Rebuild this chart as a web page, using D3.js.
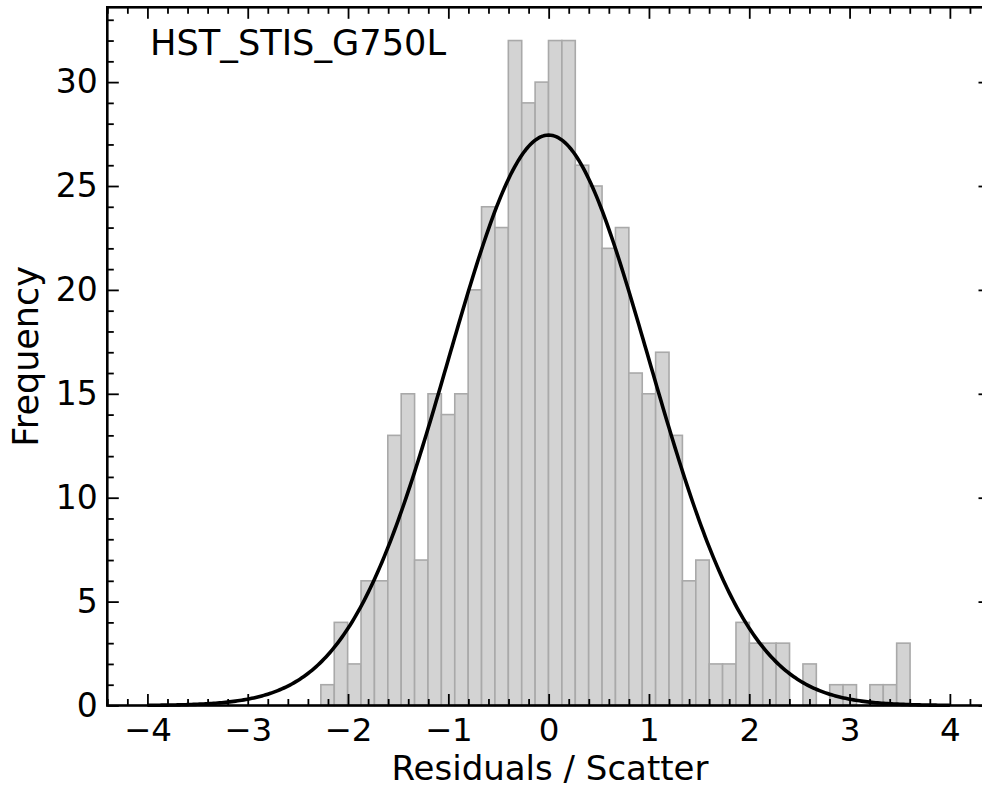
<!DOCTYPE html>
<html>
<head>
<meta charset="utf-8">
<script src="https://cdn.jsdelivr.net/npm/d3@7"></script>
<style>
  html, body { margin: 0; padding: 0; background: #ffffff; }
  svg { display: block; }
  text { font-family: "DejaVu Sans", sans-serif; fill: #000; }
</style>
</head>
<body>
<svg id="chart" width="982" height="788"></svg>
<script>
// ---- data ----
const instrumentLabel = "HST_STIS_G750L";
const binStart = -2.271;
const binWidth = 0.1335;
const binCounts = [1, 4, 2, 6, 6, 13, 15, 7, 15, 14, 15, 20, 24, 23, 32, 29, 30, 32, 32, 26,
                   25, 22, 23, 16, 15, 17, 13, 6, 7, 2, 2, 4, 3, 3, 3, 0, 2, 0, 1, 1,
                   0, 1, 1, 3];
const gaussPeak = 27.45;
const gaussMean = 0.0;
const gaussSigma = 1.0;
const gaussRange = [-4, 4];
const xTicks = [-4, -3, -2, -1, 0, 1, 2, 3, 4];
const yTicks = [0, 5, 10, 15, 20, 25, 30];
const xLabel = "Residuals / Scatter";
const yLabel = "Frequency";

// ---- layout ----
const L = 107.3, R = 990, T = 7.3, B = 705.5;
const svg = d3.select("#chart");

const x = d3.scaleLinear().domain([-4.4, 4.4]).range([L, R]);
const y = d3.scaleLinear().domain([0, 33.6]).range([B, T]);

const bins = binCounts.map((c, i) => ({
  x0: binStart + i * binWidth,
  x1: binStart + (i + 1) * binWidth,
  count: c
}));

// bars
svg.append("g").selectAll("rect")
  .data(bins.filter(d => d.count > 0))
  .join("rect")
  .attr("x", d => x(d.x0))
  .attr("y", d => y(d.count))
  .attr("width", d => x(d.x1) - x(d.x0))
  .attr("height", d => y(0) - y(d.count))
  .attr("fill", "#d3d3d3")
  .attr("stroke", "#a9a9a9")
  .attr("stroke-width", 1.6);

// gaussian model curve
const curvePts = d3.range(0, 401).map(i => {
  const xv = gaussRange[0] + (gaussRange[1] - gaussRange[0]) * i / 400;
  return [xv, gaussPeak * Math.exp(-0.5 * Math.pow((xv - gaussMean) / gaussSigma, 2))];
});
svg.append("path")
  .datum(curvePts)
  .attr("fill", "none")
  .attr("stroke", "#000")
  .attr("stroke-width", 3.6)
  .attr("stroke-linejoin", "round")
  .attr("d", d3.line().x(d => x(d[0])).y(d => y(d[1])));

// axes with inward ticks on all four sides
const majorLen = 11.5, minorLen = 6.5;
const xMinor = d3.range(-44, 45, 2).map(v => v / 10).filter(v => Math.abs(v - Math.round(v)) > 1e-6);
const yMinor = d3.range(0, 34).filter(v => v % 5 !== 0);

function tickAxis(axisGen, transform) {
  const g = svg.append("g").attr("transform", transform).call(axisGen);
  g.select(".domain").remove();
  g.selectAll(".tick line").attr("stroke", "#000").attr("stroke-width", 1.8);
  return g;
}

// bottom major (labels)
const bottom = tickAxis(
  d3.axisBottom(x).tickValues(xTicks).tickSizeInner(-majorLen).tickSizeOuter(0)
    .tickPadding(12).tickFormat(d => d < 0 ? "\u2212" + Math.abs(d) : String(d)),
  `translate(0,${B})`);
bottom.selectAll(".tick text").attr("font-size", 32.5).attr("font-family", "DejaVu Sans").attr("fill", "#000");
tickAxis(d3.axisBottom(x).tickValues(xMinor).tickSizeInner(-minorLen).tickSizeOuter(0).tickFormat(""),
  `translate(0,${B})`);
// top
tickAxis(d3.axisTop(x).tickValues(xTicks).tickSizeInner(-majorLen).tickSizeOuter(0).tickFormat(""),
  `translate(0,${T})`);
tickAxis(d3.axisTop(x).tickValues(xMinor).tickSizeInner(-minorLen).tickSizeOuter(0).tickFormat(""),
  `translate(0,${T})`);
// left
const left = tickAxis(
  d3.axisLeft(y).tickValues(yTicks).tickSizeInner(-majorLen).tickSizeOuter(0)
    .tickPadding(9.5).tickFormat(d3.format("d")),
  `translate(${L},0)`);
left.selectAll(".tick text").attr("font-size", 33).attr("font-family", "DejaVu Sans").attr("fill", "#000");
tickAxis(d3.axisLeft(y).tickValues(yMinor).tickSizeInner(-minorLen).tickSizeOuter(0).tickFormat(""),
  `translate(${L},0)`);
// right
tickAxis(d3.axisRight(y).tickValues(yTicks).tickSizeInner(-majorLen).tickSizeOuter(0).tickFormat(""),
  `translate(${R},0)`);
tickAxis(d3.axisRight(y).tickValues(yMinor).tickSizeInner(-minorLen).tickSizeOuter(0).tickFormat(""),
  `translate(${R},0)`);

// frame
svg.append("rect")
  .attr("x", L).attr("y", T).attr("width", R - L).attr("height", B - T)
  .attr("fill", "none").attr("stroke", "#000").attr("stroke-width", 2.6);

// labels
svg.append("text")
  .attr("x", 550).attr("y", 780)
  .attr("text-anchor", "middle").attr("font-size", 34)
  .text(xLabel);
svg.append("text")
  .attr("transform", `translate(38,${(T + B) / 2}) rotate(-90)`)
  .attr("text-anchor", "middle").attr("font-size", 35)
  .text(yLabel);
svg.append("text")
  .attr("x", 150).attr("y", 55)
  .attr("font-size", 35.2)
  .text(instrumentLabel);
</script>
</body>
</html>
